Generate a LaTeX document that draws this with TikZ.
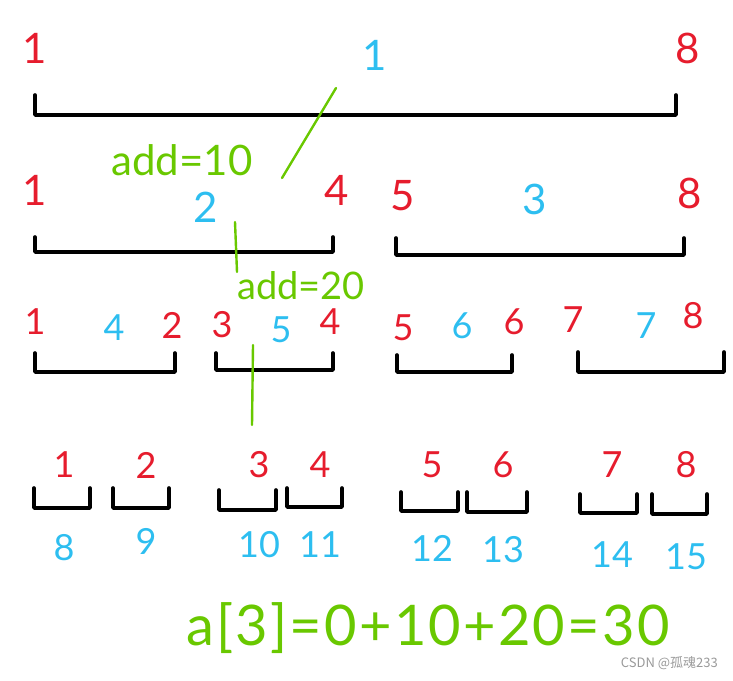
\documentclass[tikz,border=0pt]{standalone}
\usepackage{fontspec}
\setmainfont{Lato}
\newfontfamily\cjkfont{Noto Sans CJK SC}
\newfontfamily\sumfont[LetterSpace=4]{Lato}
\definecolor{bndred}{RGB}{230,28,45}
\definecolor{idxblue}{RGB}{45,190,240}
\definecolor{addgreen}{RGB}{105,200,0}
\begin{document}
\begin{tikzpicture}[x=1pt,y=-1pt,
  seg/.style={line width=3.6pt, line cap=round, line join=round},
  bnd/.style={text=bndred, font=\fontsize{42}{42}\selectfont},
  idx/.style={text=idxblue, font=\fontsize{42}{42}\selectfont},
  small/.style={font=\fontsize{36}{36}\selectfont},
  note/.style={text=addgreen, font=\fontsize{42}{42}\selectfont, inner sep=1pt},
  trace/.style={draw=addgreen, line width=2.4pt, line cap=round}]
\useasboundingbox (0,0) rectangle (733,680);
% segment brackets, left/right/top/bottom
\foreach \a/\b/\t/\u in {35/676/95/115, 35/333/237/252, 396/684/238/255,
    35/175/353/372, 216/333/353/370, 397/512/355/372, 578/724/352/372,
    34/90/488/508, 113/169/488/508, 219/276/490/510, 287/342/488/507,
    401/458/492/511, 467/527/492/512, 580/637/494/513, 652/707/494/514}{
    \draw[seg] (\a,\t) -- (\a,\u) -- (\b,\u) -- (\b,\t);
}
% root and second level
\node[bnd] (lo1) at (35,48) {1};
\node[idx] (id1) at (375,55) {1};
\node[bnd] (hi1) at (688,48) {8};
\node[bnd] (lo2) at (35,190) {1};
\node[idx] (id2) at (206,207) {2};
\node[bnd] (hi2) at (337,190) {4};
\node[bnd] (lo3) at (403,196) {5};
\node[idx] (id3) at (535,199) {3};
\node[bnd] (hi3) at (690,193) {8};
% third level
\foreach \x/\y/\s/\v [count=\k] in {35/322/bnd/1, 114/328/idx/4, 172/325/bnd/2,
    222/325/bnd/3, 281/330/idx/5, 330/322/bnd/4, 403/328/bnd/5, 462/326/idx/6,
    514/322/bnd/6, 573/320/bnd/7, 646/326/idx/7, 693/316/bnd/8}{
    \node[\s, small] (c\k) at (\x,\y) {\v};
}
% leaves: value above, index below
\foreach \x/\v/\i/\y in {64/1/8/548, 146/2/9/541, 259/3/10/545, 320/4/11/545,
    432/5/12/548, 503/6/13/550, 612/7/14/555, 686/8/15/557}{
    \node[bnd, small] (v\v) at (\x,465) {\v};
    \node[idx, small] (i\i) at (\x,\y) {\i};
}
% lazy tags down to leaf 3
\coordinate (p0) at (336,88);
\coordinate (p1) at (282,178);
\draw[trace] (p0) -- (p1);
\node[note] (add1) at (182,160) {add=10};
\coordinate (q0) at (235,222);
\coordinate (q1) at (237,272);
\draw[trace] (q0) -- (q1);
\node[note, font=\fontsize{38}{38}\selectfont] (add2) at (301,286) {add=20};
\coordinate (r0) at (253,345);
\coordinate (r1) at (252,425);
\draw[trace] (r0) -- (r1);
\node[note, font=\sumfont\fontsize{56}{56}\selectfont] (sum) at (428,628) {a[3]=0+10+20=30};
\node[text=black!40, font=\cjkfont\fontsize{13}{13}\selectfont, anchor=east, inner sep=0pt] (wm) at (718,663) {CSDN @孤魂233};
\end{tikzpicture}
\end{document}
